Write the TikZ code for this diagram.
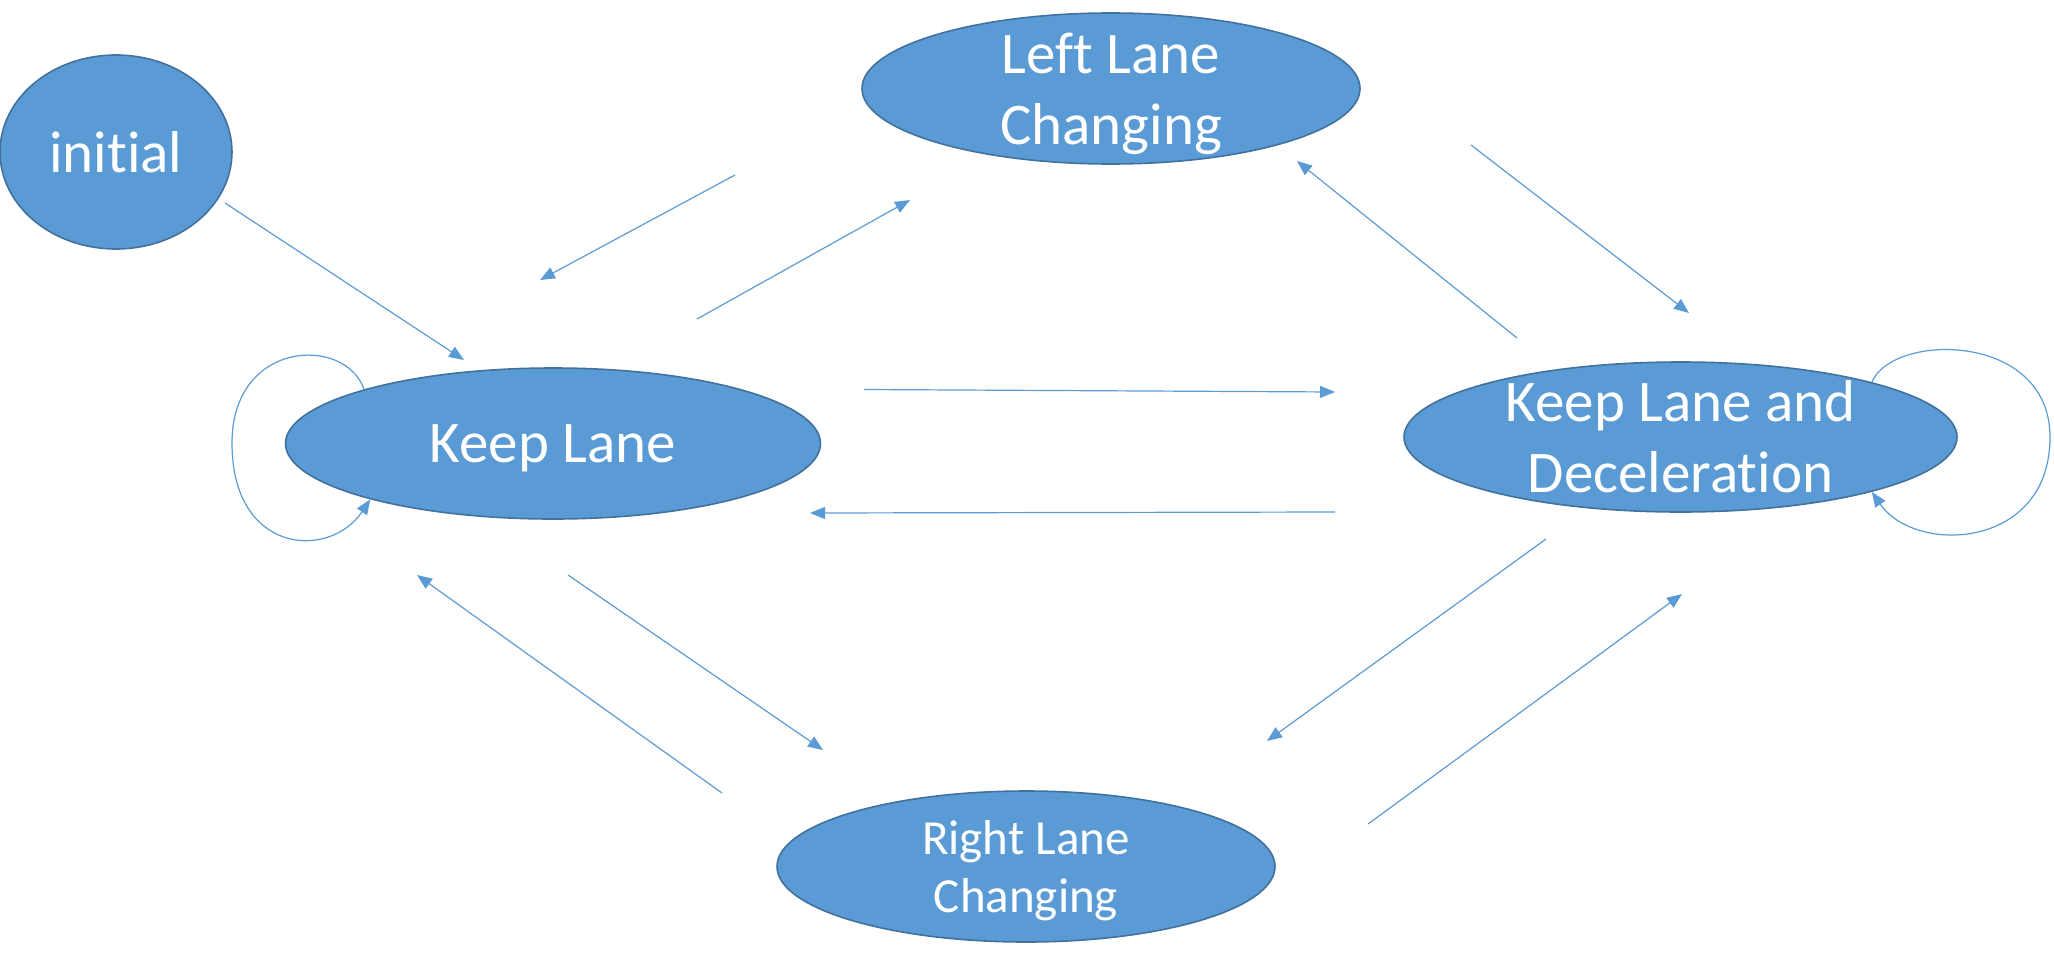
\documentclass[tikz,border=0pt]{standalone}
\usepackage{fontspec}
\setmainfont{Carlito}[Ligatures=NoCommon]
\usetikzlibrary{shapes.geometric,arrows.meta}
\definecolor{statefill}{HTML}{5B9BD5}
\definecolor{stateline}{HTML}{41719C}
\definecolor{linkline}{HTML}{5B9BD5}

\begin{document}
\begin{tikzpicture}[x=0.5pt,y=-0.5pt,
  state/.style={ellipse,draw=stateline,fill=statefill,line width=0.8pt,inner sep=0pt},
  statename/.style={text=white,align=center,text depth=0pt,font=\fontsize{29.5}{35.5}\selectfont},
  smallname/.style={statename,font=\fontsize{24.5}{29}\selectfont},
  link/.style={draw=linkline,line width=0.6pt,-{Triangle[length=7.5pt,width=6pt]}}]
\useasboundingbox (0,0) rectangle (2054,958);
% states
\node (init) [state,minimum width=116pt,minimum height=97pt]   at (116,152)    {};
\node (llc)  [state,minimum width=249pt,minimum height=75.5pt] at (1111,88.5)  {};
\node (kl)   [state,minimum width=267.5pt,minimum height=75.5pt] at (553,443.5) {};
\node (kld)  [state,minimum width=276.5pt,minimum height=75pt] at (1680.5,437) {};
\node (rlc)  [state,minimum width=249pt,minimum height=75.5pt] at (1026,866.5)  {};
\node (inittext) [statename] at (init) {initial};
\node (llctext)  [statename] at (llc)  {Left Lane\\Changing};
\node (kltext)   [statename] at (kl)   {Keep Lane};
\node (kldtext)  [statename] at (kld)  {Keep Lane and\\Deceleration};
\node (rlctext)  [smallname] at (rlc)  {Right Lane\\Changing};
% free ends of the transitions
\coordinate (init-kl-s) at (225,203);   \coordinate (init-kl-e) at (464,360);
\coordinate (llc-kl-s)  at (735,175);   \coordinate (llc-kl-e)  at (540,280);
\coordinate (kl-llc-s)  at (697,319);   \coordinate (kl-llc-e)  at (910,200);
\coordinate (kld-llc-s) at (1517,338);  \coordinate (kld-llc-e) at (1297,161);
\coordinate (llc-kld-s) at (1471,145);  \coordinate (llc-kld-e) at (1689,313);
\coordinate (kl-kld-s)  at (864,389.5); \coordinate (kl-kld-e)  at (1335,392);
\coordinate (kld-kl-s)  at (1335,512);  \coordinate (kld-kl-e)  at (810,513);
\coordinate (rlc-kl-s)  at (722,793);   \coordinate (rlc-kl-e)  at (417,575);
\coordinate (kl-rlc-s)  at (568,575);   \coordinate (kl-rlc-e)  at (823,750);
\coordinate (kld-rlc-s) at (1546,539);  \coordinate (kld-rlc-e) at (1267,741);
\coordinate (rlc-kld-s) at (1368,824);  \coordinate (rlc-kld-e) at (1682,594);
% transitions
\draw [link] (init-kl-s) -- (init-kl-e);
\draw [link] (llc-kl-s) -- (llc-kl-e);
\draw [link] (kl-llc-s) -- (kl-llc-e);
\draw [link] (kld-llc-s) -- (kld-llc-e);
\draw [link] (llc-kld-s) -- (llc-kld-e);
\draw [link] (kl-kld-s) -- (kl-kld-e);
\draw [link] (kld-kl-s) -- (kld-kl-e);
\draw [link] (rlc-kl-s) -- (rlc-kl-e);
\draw [link] (kl-rlc-s) -- (kl-rlc-e);
\draw [link] (kld-rlc-s) -- (kld-rlc-e);
\draw [link] (rlc-kld-s) -- (rlc-kld-e);
% self loops
\draw [link] (kl.164) .. controls (345,335) and (232,340) .. (232,443)
             .. controls (232,555) and (330,560) .. (kl.197);
\draw [link] (kld.16) .. controls (1893,332) and (2050,332) .. (2050,437)
             .. controls (2050,550) and (1915,555) .. (kld.-16);
\end{tikzpicture}
\end{document}
